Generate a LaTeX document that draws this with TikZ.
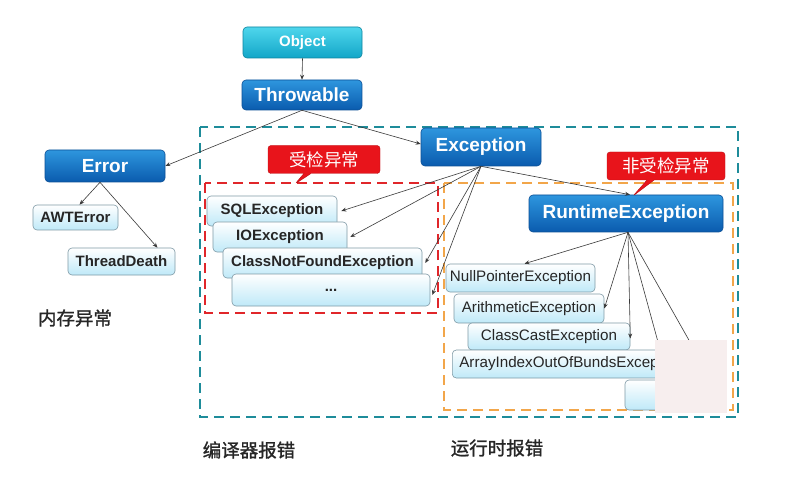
\documentclass[tikz,border=0pt]{standalone}
\usepackage{fontspec}
\setmainfont{Liberation Sans}
\newfontfamily\cjk{Noto Sans CJK SC}
\newfontfamily\cjkb[FakeBold=1.2]{Noto Sans CJK SC}
\usetikzlibrary{arrows.meta,shapes.callouts}
\definecolor{bluetop}{HTML}{2E96DE}
\definecolor{bluebot}{HTML}{0A5BAE}
\definecolor{blueedge}{HTML}{0B4F96}
\definecolor{cyantop}{HTML}{4FD6EC}
\definecolor{cyanbot}{HTML}{12A6C8}
\definecolor{lighttop}{HTML}{FFFFFF}
\definecolor{lightbot}{HTML}{BFE9F8}
\definecolor{lightedge}{HTML}{7F9AA6}
\definecolor{tealdash}{HTML}{1E8C9A}
\definecolor{reddash}{HTML}{E0262A}
\definecolor{orangedash}{HTML}{F2A64A}
\definecolor{calloutred}{HTML}{E8141B}
\definecolor{arrowgray}{HTML}{3A3A3A}
\definecolor{coverpink}{HTML}{F7EEEE}
\tikzset{
  bluebox/.style={rounded corners=4pt, top color=bluetop, bottom color=bluebot, draw=blueedge, line width=0.6pt, text=white, font=\fontsize{19}{19}\selectfont\bfseries, inner sep=0pt},
  cyanbox/.style={bluebox, top color=cyantop, bottom color=cyanbot, draw=cyanbot!80!black, font=\fontsize{15}{15}\selectfont\bfseries},
  lightbox/.style={rounded corners=4pt, top color=lighttop, bottom color=lightbot, draw=lightedge, line width=0.6pt, text=black!85, font=\fontsize{15}{15}\selectfont\bfseries, inner sep=0pt},
  lightreg/.style={lightbox, font=\fontsize{15.2}{15}\selectfont},
  conn/.style={draw=arrowgray, line width=0.6pt, -{Stealth[length=5pt,width=4pt]}},
  conn0/.style={draw=arrowgray, line width=0.6pt},
  dashbox/.style={line width=2.6pt, dash pattern=on 10pt off 6pt},
  callbox/.style={rectangle callout, rounded corners=3pt, fill=calloutred, draw=calloutred!80!black, text=white, font=\cjk\fontsize{17.5}{17.5}\selectfont, inner sep=0pt},
  cjklabel/.style={font=\cjkb\fontsize{18.5}{18.5}\selectfont, text=black!85}
}
\begin{document}
\begin{tikzpicture}[x=1pt,y=-1pt]
\useasboundingbox (0,0) rectangle (796,500);
\fill[white] (0,0) rectangle (796,500);
% dashed regions
\draw[dashbox, tealdash] (200,127) rectangle (738,417);
\draw[dashbox, reddash] (205,183) rectangle (438,313);
\draw[dashbox, orangedash, line width=2.2pt] (444,183) rectangle (733,410);
% nodes
\node[cyanbox, minimum width=119pt, minimum height=31pt] (object) at (302.5,42.5) {Object};
\node[bluebox, minimum width=120pt, minimum height=30pt] (throwable) at (302,95) {Throwable};
\node[bluebox, minimum width=120pt, minimum height=32pt] (error) at (105,166) {Error};
\node[lightbox, minimum width=85pt, minimum height=25pt] (awt) at (75.5,217.5) {AWTError};
\node[lightbox, minimum width=107pt, minimum height=27pt] (death) at (121.5,261.5) {ThreadDeath};
\node[bluebox, minimum width=120pt, minimum height=38pt] (exception) at (481,147) {Exception};
\node[bluebox, minimum width=194pt, minimum height=37pt] (runtime) at (626,213.5) {RuntimeException};
\node[lightbox, minimum width=130pt, minimum height=30pt] (sql) at (272,211) {SQLException};
\node[lightbox, minimum width=134pt, minimum height=30pt] (io) at (280,237) {IOException};
\node[lightbox, minimum width=199pt, minimum height=30pt] (cnf) at (322.5,263) {ClassNotFoundException};
\node[lightbox, minimum width=198pt, minimum height=32pt] (dots) at (331,290) {\raisebox{-2pt}{...}};
\node[lightreg, minimum width=149pt, minimum height=28pt] (npe) at (520.5,278) {NullPointerException};
\node[lightreg, minimum width=150pt, minimum height=29pt] (arith) at (529,308.5) {ArithmeticException};
\node[lightreg, minimum width=162pt, minimum height=27pt] (cast) at (549,336.5) {ClassCastException};
\node[lightreg, text width=222pt, align=left, inner xsep=7pt, minimum height=28pt, anchor=west] (array) at (452,364) {ArrayIndexOutOfBundsExcep};
\node[lightreg, minimum width=80pt, minimum height=30pt] (hidden) at (665,395) {};
% callouts
\node[callbox, minimum width=112pt, minimum height=28pt, callout absolute pointer={(295,184)}] (checked) at (324,159.5) {受检异常};
\node[callbox, minimum width=118pt, minimum height=28pt, callout absolute pointer={(633,196)}] (unchecked) at (666,166) {非受检异常};
% free ends hidden behind the cover
\coordinate (h1) at (658,342);
\coordinate (h2) at (690,342);
% connectors
\draw[conn] (object.south) -- (throwable.north);
\draw[conn] (throwable.south) -- (error.east);
\draw[conn] (throwable.south) -- ([yshift=3pt]exception.west);
\draw[conn] ([xshift=-5pt]error.south) -- ([xshift=4pt]awt.north);
\draw[conn] ([xshift=-5pt]error.south) -- ([xshift=36pt]death.north);
\draw[conn] (exception.south) -- ([xshift=4pt]sql.east);
\draw[conn] (exception.south) -- ([xshift=3pt]io.east);
\draw[conn] (exception.south) -- ([xshift=3pt]cnf.east);
\draw[conn] (exception.south) -- ([xshift=2pt,yshift=-5pt]dots.east);
\draw[conn] (exception.south) -- ([xshift=4pt]runtime.north);
\draw[conn] ([xshift=2pt]runtime.south) -- ([xshift=4pt]npe.north);
\draw[conn] ([xshift=2pt]runtime.south) -- (arith.east);
\draw[conn] ([xshift=2pt]runtime.south) -- ([yshift=-2pt]cast.east);
\draw[conn0] ([xshift=2pt]runtime.south) -- (h1);
\draw[conn0] ([xshift=2pt]runtime.south) -- (h2);
% cover patch
\fill[coverpink] (655,340) rectangle (727,413);
% labels
\node[cjklabel] (mem) at (75,318) {内存异常};
\node[cjklabel] (compile) at (249,450) {编译器报错};
\node[cjklabel] (run) at (497,448) {运行时报错};
\end{tikzpicture}
\end{document}
